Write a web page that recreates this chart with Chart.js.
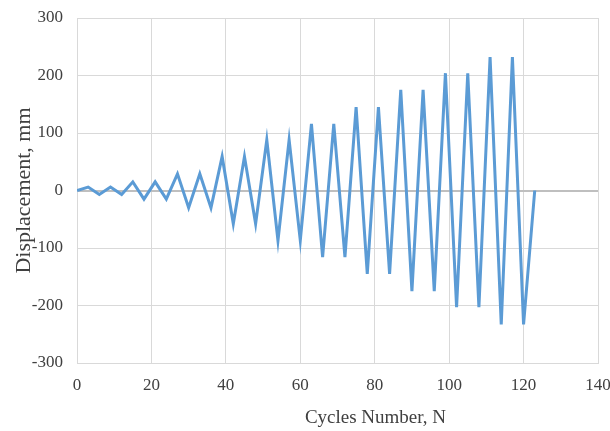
<!DOCTYPE html>
<html lang="en">
<head>
  <meta charset="UTF-8" />
  <title>Displacement vs Cycles</title>
  <script src="https://cdn.jsdelivr.net/npm/chart.js"></script>
  <style>
    html, body { margin: 0; padding: 0; background: #fff; }
    #wrap { width: 610px; height: 431px; }
  </style>
</head>
<body>
  <div id="wrap"><canvas id="cycleChart" width="610" height="431"></canvas></div>

<script>
  // cycle numbers and displacement (mm)
  const cycles = [0, 3, 6, 9, 12, 15, 18, 21, 24, 27, 30, 33, 36, 39, 42, 45, 48, 51, 54, 57, 60,
    63, 66, 69, 72, 75, 78, 81, 84, 87, 90, 93, 96, 99, 102, 105, 108, 111, 114, 117, 120, 123];
  const displacement = [0, 6, -7, 6, -7, 15, -15, 15, -15, 29, -30, 29, -30, 59, -58, 59, -58, 88, -87, 88, -87,
    116, -116, 116, -116, 145, -145, 145, -145, 175, -175, 175, -175, 204, -203, 204, -203, 232, -233, 232, -233, 0];
  const xTicks = [0, 20, 40, 60, 80, 100, 120, 140];
  const yTicks = [-300, -200, -100, 0, 100, 200, 300];
  const xTitle = 'Cycles Number, N';
  const yTitle = 'Displacement, mm';

  const serif = "'Liberation Serif', 'Times New Roman', serif";
  const gridGray = '#d9d9d9';
  const textGray = '#404040';

  // x caption sits right of the plot centre in the original, so draw it ourselves
  const xCaption = {
    id: 'xCaption',
    afterDraw(chart) {
      const ctx = chart.ctx;
      const area = chart.chartArea;
      ctx.save();
      ctx.fillStyle = textGray;
      ctx.font = '19px ' + serif;
      ctx.textAlign = 'center';
      ctx.textBaseline = 'middle';
      ctx.fillText(xTitle, (area.left + area.right) / 2 + 38, 418);
      ctx.restore();
    }
  };

  new Chart(document.getElementById('cycleChart').getContext('2d'), {
    type: 'line',
    data: {
      datasets: [{
        data: cycles.map((c, i) => ({ x: c, y: displacement[i] })),
        borderColor: '#5b9bd5',
        borderWidth: 3,
        pointRadius: 0,
        tension: 0,
        fill: false
      }]
    },
    options: {
      responsive: false,
      animation: false,
      layout: { padding: { top: 18, right: 12, bottom: 0, left: 0 } },
      plugins: { legend: { display: false }, tooltip: { enabled: false } },
      scales: {
        x: {
          type: 'linear',
          min: 0, max: 140,
          afterBuildTicks: s => { s.ticks = xTicks.map(v => ({ value: v })); },
          afterFit: s => { s.height = 68; s.paddingLeft = 0; s.paddingRight = 0; },
          ticks: { color: textGray, font: { family: serif, size: 17 }, padding: 12, maxRotation: 0 },
          grid: { color: gridGray, lineWidth: 1, drawTicks: false },
          border: { color: gridGray }
        },
        y: {
          min: -300, max: 300,
          afterBuildTicks: s => { s.ticks = yTicks.map(v => ({ value: v })); },
          afterFit: s => { s.width = 77; s.paddingTop = 0; s.paddingBottom = 0; },
          ticks: { color: textGray, font: { family: serif, size: 17 }, padding: 14 },
          grid: {
            color: c => c.tick && c.tick.value === 0 ? '#bfbfbf' : gridGray,
            lineWidth: c => c.tick && c.tick.value === 0 ? 2 : 1,
            drawTicks: false
          },
          border: { color: gridGray },
          title: { display: true, text: yTitle, color: textGray, font: { family: serif, size: 22 }, padding: { top: 11, bottom: 0 } }
        }
      }
    },
    plugins: [xCaption]
  });
</script>
</body>
</html>
